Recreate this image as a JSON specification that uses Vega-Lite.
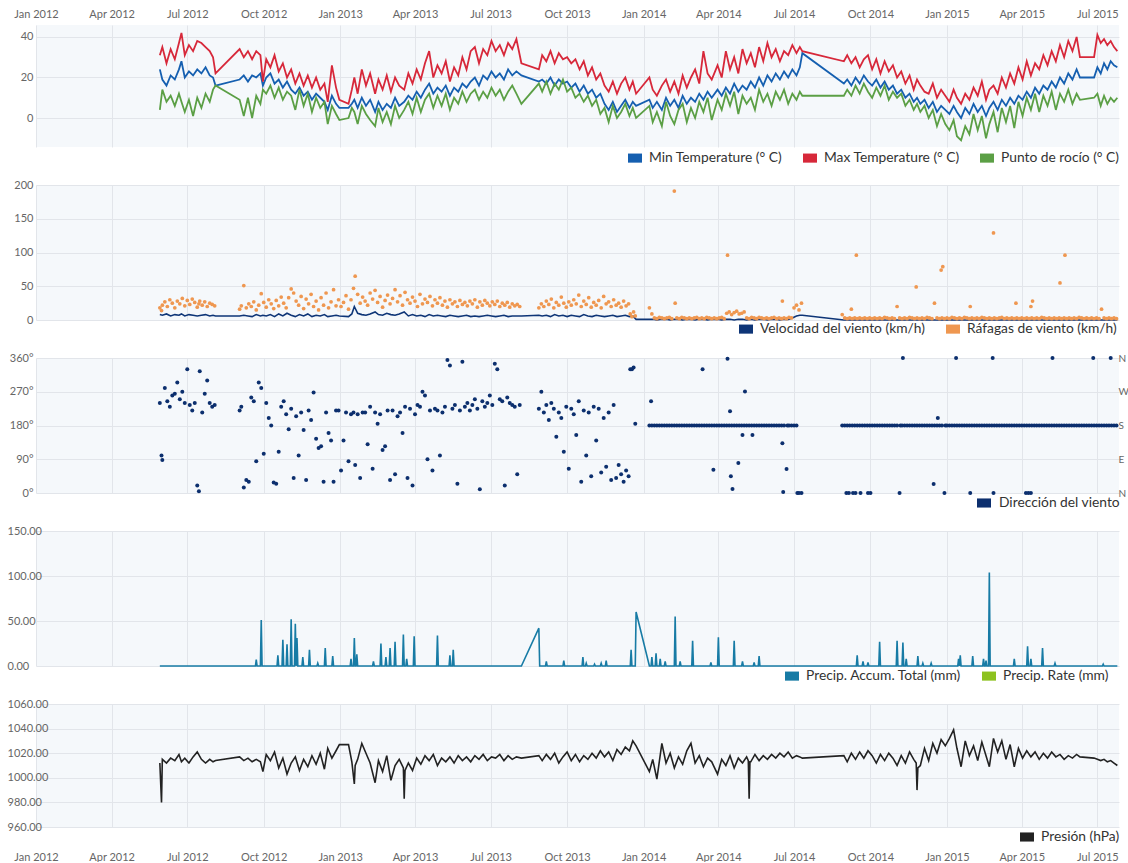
{
"$schema":"https://vega.github.io/schema/vega-lite/v6.json",
"background":"white",
"padding":{"left":7,"top":8,"right":0,"bottom":0},
"bounds":"flush",
"spacing":38,
"resolve":{"scale":{"color":"independent"},"legend":{"color":"independent"}},
"config":{
 "font":"Lato",
 "view":{"fill":"#f5f8fb","stroke":null},
 "axis":{"labelFont":"Lato","labelFontSize":11,"labelColor":"#666666","domain":false,"ticks":false,"tickSize":0,"gridColor":"#e2e5ea","gridWidth":1,"title":null,"labelFlush":false,"labelOverlap":false},
 "legend":{"labelFont":"Lato","labelFontSize":13.8,"labelColor":"#333333","orient":"none","direction":"horizontal","columnPadding":20,"labelOffset":7,"symbolSize":196,"symbolType":"M-1,-0.65H1V0.65H-1Z","title":null,"padding":0,"labelLimit":400}
},
"datasets":{
"m":[
{"d":"2012-05-29","a":24,"b":31,"c":4,"w":8,"p":1012},
{"d":"2012-05-31","p":980},
{"d":"2012-06-01","a":19,"b":35,"c":14,"w":7,"p":1015},
{"d":"2012-06-06","a":16,"b":27,"c":8,"w":9,"p":1012},
{"d":"2012-06-11","a":21,"b":34,"c":11,"w":6,"p":1016},
{"d":"2012-06-16","a":19,"b":29,"c":6,"w":8,"p":1014},
{"d":"2012-06-21","a":24,"b":37,"c":12,"w":7,"p":1019},
{"d":"2012-06-24","a":28,"b":42,"c":8,"w":9,"p":1013},
{"d":"2012-06-28","a":20,"b":31,"c":3,"w":6,"p":1016},
{"d":"2012-07-03","a":23,"b":36,"c":9,"w":8,"p":1012},
{"d":"2012-07-08","a":21,"b":33,"c":1,"w":7,"p":1017},
{"d":"2012-07-13","a":24,"b":38,"c":10,"w":6,"p":1021},
{"d":"2012-07-18","a":22,"b":37,"c":5,"w":7,"p":1015},
{"d":"2012-07-23","a":25,"b":35,"c":12,"w":8,"p":1012},
{"d":"2012-07-28","a":21,"b":33,"c":8,"w":6,"p":1015},
{"d":"2012-08-01","a":20,"b":30,"c":14,"w":7,"p":1013},
{"d":"2012-08-04","a":16,"b":22,"c":16,"w":6,"p":1014},
{"d":"2012-09-02","a":19,"b":34,"c":9,"w":6,"p":1017},
{"d":"2012-09-07","a":21,"b":30,"c":1,"w":7,"p":1014},
{"d":"2012-09-12","a":18,"b":33,"c":10,"w":6,"p":1016},
{"d":"2012-09-17","a":21,"b":29,"c":0,"w":5,"p":1013},
{"d":"2012-09-22","a":20,"b":33,"c":11,"w":8,"p":1015},
{"d":"2012-09-27","a":22,"b":31,"c":7,"w":6,"p":1013},
{"d":"2012-09-30","a":16,"b":18,"c":14,"w":7,"p":1005},
{"d":"2012-10-04","a":20,"b":29,"c":12,"w":6,"p":1019},
{"d":"2012-10-09","a":22,"b":25,"c":16,"w":8,"p":1014},
{"d":"2012-10-14","a":17,"b":31,"c":10,"w":5,"p":1021},
{"d":"2012-10-19","a":19,"b":23,"c":15,"w":9,"p":1008},
{"d":"2012-10-24","a":15,"b":27,"c":9,"w":6,"p":1016},
{"d":"2012-10-29","a":18,"b":20,"c":13,"w":10,"p":1003},
{"d":"2012-11-03","a":14,"b":24,"c":11,"w":7,"p":1012},
{"d":"2012-11-08","a":12,"b":17,"c":4,"w":5,"p":1017},
{"d":"2012-11-13","a":15,"b":22,"c":14,"w":8,"p":1006},
{"d":"2012-11-18","a":11,"b":16,"c":6,"w":6,"p":1015},
{"d":"2012-11-23","a":13,"b":21,"c":12,"w":9,"p":1009},
{"d":"2012-11-28","a":9,"b":15,"c":3,"w":5,"p":1018},
{"d":"2012-12-03","a":12,"b":20,"c":10,"w":7,"p":1011},
{"d":"2012-12-08","a":10,"b":14,"c":5,"w":6,"p":1020},
{"d":"2012-12-13","a":8,"b":17,"c":8,"w":8,"p":1007},
{"d":"2012-12-17","a":4,"b":8,"c":-3,"w":5,"p":1024},
{"d":"2012-12-22","a":11,"b":26,"c":6,"w":6,"p":1016},
{"d":"2012-12-27","a":7,"b":15,"c":2,"w":7,"p":1022},
{"d":"2012-12-31","a":5,"b":9,"c":-1,"w":6,"p":1027},
{"d":"2013-01-11","a":5,"b":7,"c":0,"w":5,"p":1027},
{"d":"2013-01-15","a":7,"b":14,"c":5,"w":9,"p":1013},
{"d":"2013-01-18","a":9,"b":20,"c":3,"w":20,"p":995},
{"d":"2013-01-19","p":1010},
{"d":"2013-01-22","a":5,"b":12,"c":-3,"w":10,"p":1015},
{"d":"2013-01-27","a":10,"b":24,"c":6,"w":8,"p":1028},
{"d":"2013-02-01","a":6,"b":16,"c":2,"w":7,"p":1020},
{"d":"2013-02-06","a":9,"b":22,"c":-1,"w":9,"p":1012},
{"d":"2013-02-12","a":3,"b":12,"c":-4,"w":12,"p":996},
{"d":"2013-02-16","a":8,"b":19,"c":5,"w":8,"p":1014},
{"d":"2013-02-21","a":4,"b":14,"c":-2,"w":7,"p":1005},
{"d":"2013-02-26","a":7,"b":21,"c":3,"w":10,"p":1018},
{"d":"2013-03-03","a":5,"b":13,"c":-3,"w":8,"p":998},
{"d":"2013-03-08","a":10,"b":20,"c":6,"w":7,"p":1010},
{"d":"2013-03-13","a":6,"b":16,"c":0,"w":9,"p":1015},
{"d":"2013-03-18","p":1008},
{"d":"2013-03-19","a":8,"b":14,"c":4,"w":12,"p":983},
{"d":"2013-03-20","p":1006},
{"d":"2013-03-24","a":11,"b":22,"c":8,"w":6,"p":1012},
{"d":"2013-03-29","a":9,"b":17,"c":2,"w":8,"p":1006},
{"d":"2013-04-03","a":13,"b":24,"c":10,"w":6,"p":1016},
{"d":"2013-04-08","a":10,"b":19,"c":3,"w":7,"p":1011},
{"d":"2013-04-13","a":14,"b":27,"c":9,"w":5,"p":1018},
{"d":"2013-04-18","a":17,"b":33,"c":12,"w":8,"p":1014},
{"d":"2013-04-23","a":12,"b":20,"c":5,"w":6,"p":1019},
{"d":"2013-04-28","a":15,"b":26,"c":11,"w":7,"p":1010},
{"d":"2013-05-03","a":13,"b":22,"c":6,"w":6,"p":1016},
{"d":"2013-05-08","a":16,"b":28,"c":12,"w":5,"p":1013},
{"d":"2013-05-13","a":11,"b":18,"c":4,"w":7,"p":1017},
{"d":"2013-05-18","a":15,"b":25,"c":10,"w":6,"p":1012},
{"d":"2013-05-23","a":13,"b":21,"c":7,"w":5,"p":1018},
{"d":"2013-05-28","a":17,"b":30,"c":13,"w":6,"p":1014},
{"d":"2013-06-02","a":15,"b":24,"c":8,"w":7,"p":1017},
{"d":"2013-06-07","a":18,"b":33,"c":12,"w":5,"p":1013},
{"d":"2013-06-12","a":20,"b":35,"c":14,"w":6,"p":1018},
{"d":"2013-06-17","a":16,"b":27,"c":9,"w":5,"p":1015},
{"d":"2013-06-22","a":21,"b":34,"c":13,"w":6,"p":1019},
{"d":"2013-06-27","a":19,"b":31,"c":10,"w":7,"p":1014},
{"d":"2013-07-02","a":23,"b":38,"c":15,"w":6,"p":1017},
{"d":"2013-07-07","a":20,"b":33,"c":11,"w":5,"p":1016},
{"d":"2013-07-12","a":22,"b":36,"c":14,"w":6,"p":1019},
{"d":"2013-07-17","a":19,"b":31,"c":9,"w":7,"p":1014},
{"d":"2013-07-22","a":24,"b":37,"c":13,"w":5,"p":1018},
{"d":"2013-07-27","a":21,"b":34,"c":16,"w":6,"p":1015},
{"d":"2013-08-01","a":23,"b":39,"c":12,"w":6,"p":1017},
{"d":"2013-08-07","a":21,"b":27,"c":7,"w":6,"p":1016},
{"d":"2013-08-28","a":18,"b":24,"c":17,"w":7,"p":1018},
{"d":"2013-09-01","a":19,"b":31,"c":13,"w":6,"p":1014},
{"d":"2013-09-06","a":17,"b":28,"c":18,"w":7,"p":1019},
{"d":"2013-09-11","a":20,"b":33,"c":12,"w":5,"p":1015},
{"d":"2013-09-16","a":16,"b":27,"c":17,"w":8,"p":1020},
{"d":"2013-09-21","a":19,"b":32,"c":14,"w":6,"p":1012},
{"d":"2013-09-26","a":17,"b":29,"c":19,"w":7,"p":1017},
{"d":"2013-10-01","a":18,"b":30,"c":13,"w":5,"p":1021},
{"d":"2013-10-06","a":15,"b":27,"c":15,"w":7,"p":1014},
{"d":"2013-10-11","a":17,"b":29,"c":10,"w":6,"p":1019},
{"d":"2013-10-16","a":13,"b":24,"c":12,"w":5,"p":1013},
{"d":"2013-10-21","a":16,"b":28,"c":8,"w":8,"p":1018},
{"d":"2013-10-26","a":12,"b":21,"c":11,"w":6,"p":1015},
{"d":"2013-10-31","a":14,"b":25,"c":6,"w":5,"p":1020},
{"d":"2013-11-05","a":10,"b":19,"c":9,"w":7,"p":1016},
{"d":"2013-11-10","a":12,"b":22,"c":2,"w":6,"p":1022},
{"d":"2013-11-15","a":7,"b":16,"c":5,"w":5,"p":1017},
{"d":"2013-11-20","a":4,"b":13,"c":-2,"w":6,"p":1021},
{"d":"2013-11-25","a":8,"b":18,"c":6,"w":7,"p":1014},
{"d":"2013-11-30","a":3,"b":12,"c":0,"w":5,"p":1023},
{"d":"2013-12-05","a":6,"b":17,"c":3,"w":6,"p":1019},
{"d":"2013-12-10","a":9,"b":20,"c":7,"w":7,"p":1025},
{"d":"2013-12-15","a":5,"b":14,"c":1,"w":5,"p":1022},
{"d":"2013-12-19","a":8,"b":18,"c":5,"w":6,"p":1030},
{"d":"2013-12-23","a":6,"b":12,"c":0,"w":1,"p":1026},
{"d":"2014-01-08","a":9,"b":20,"c":6,"w":1,"p":1005},
{"d":"2014-01-12","a":5,"b":14,"c":-2,"w":1,"p":1015},
{"d":"2014-01-17","a":8,"b":11,"c":3,"w":0,"p":999},
{"d":"2014-01-23","a":4,"b":16,"c":-4,"w":1,"p":1028},
{"d":"2014-01-28","a":10,"b":19,"c":8,"w":1,"p":1012},
{"d":"2014-02-02","a":6,"b":13,"c":1,"w":0,"p":1020},
{"d":"2014-02-07","a":9,"b":18,"c":-3,"w":1,"p":1008},
{"d":"2014-02-12","a":5,"b":12,"c":4,"w":1,"p":1017},
{"d":"2014-02-17","a":11,"b":21,"c":7,"w":0,"p":1011},
{"d":"2014-02-22","a":7,"b":15,"c":-2,"w":1,"p":1022},
{"d":"2014-02-27","a":10,"b":20,"c":5,"w":1,"p":1028},
{"d":"2014-03-04","a":8,"b":24,"c":0,"w":0,"p":1012},
{"d":"2014-03-09","a":12,"b":17,"c":8,"w":1,"p":1018},
{"d":"2014-03-14","a":9,"b":33,"c":3,"w":1,"p":1009},
{"d":"2014-03-19","a":13,"b":22,"c":10,"w":0,"p":1016},
{"d":"2014-03-24","a":10,"b":19,"c":-1,"w":1,"p":1013},
{"d":"2014-03-31","a":14,"b":26,"c":9,"w":1,"p":1003},
{"d":"2014-04-05","a":11,"b":20,"c":4,"w":0,"p":1015},
{"d":"2014-04-10","a":15,"b":33,"c":12,"w":1,"p":1010},
{"d":"2014-04-15","a":12,"b":24,"c":6,"w":1,"p":1018},
{"d":"2014-04-20","a":17,"b":30,"c":13,"w":0,"p":1008},
{"d":"2014-04-25","a":13,"b":22,"c":2,"w":1,"p":1016},
{"d":"2014-04-30","a":16,"b":34,"c":11,"w":1,"p":1012},
{"d":"2014-05-05","a":14,"b":27,"c":7,"w":0,"p":1017},
{"d":"2014-05-07","p":1014},
{"d":"2014-05-08","p":983},
{"d":"2014-05-09","p":1013},
{"d":"2014-05-10","a":18,"b":32,"c":10,"w":1,"p":1013},
{"d":"2014-05-15","a":15,"b":25,"c":4,"w":0,"p":1019},
{"d":"2014-05-20","a":20,"b":35,"c":14,"w":1,"p":1014},
{"d":"2014-05-25","a":16,"b":28,"c":8,"w":1,"p":1018},
{"d":"2014-05-30","a":21,"b":37,"c":12,"w":0,"p":1015},
{"d":"2014-06-04","a":18,"b":30,"c":6,"w":1,"p":1019},
{"d":"2014-06-09","a":22,"b":34,"c":13,"w":1,"p":1016},
{"d":"2014-06-14","a":19,"b":28,"c":9,"w":0,"p":1020},
{"d":"2014-06-19","a":23,"b":33,"c":14,"w":1,"p":1017},
{"d":"2014-06-24","a":20,"b":31,"c":7,"w":1,"p":1021},
{"d":"2014-06-29","a":24,"b":36,"c":12,"w":3,"p":1016},
{"d":"2014-07-04","a":21,"b":32,"c":9,"w":6,"p":1018},
{"d":"2014-07-08","a":25,"b":35,"c":13,"w":7,"p":1017},
{"d":"2014-07-11","a":32,"b":33,"c":11,"w":7,"p":1016},
{"d":"2014-08-30","a":17,"b":28,"c":11,"w":0,"p":1018},
{"d":"2014-09-03","a":19,"b":31,"c":14,"w":0,"p":1013},
{"d":"2014-09-08","a":16,"b":27,"c":11,"w":0,"p":1020},
{"d":"2014-09-13","a":20,"b":30,"c":16,"w":0,"p":1015},
{"d":"2014-09-18","a":17,"b":25,"c":12,"w":0,"p":1021},
{"d":"2014-09-23","a":21,"b":29,"c":17,"w":0,"p":1016},
{"d":"2014-09-28","a":18,"b":31,"c":13,"w":0,"p":1022},
{"d":"2014-10-03","a":16,"b":24,"c":10,"w":0,"p":1018},
{"d":"2014-10-08","a":19,"b":29,"c":15,"w":0,"p":1012},
{"d":"2014-10-13","a":15,"b":22,"c":11,"w":0,"p":1019},
{"d":"2014-10-18","a":18,"b":28,"c":16,"w":0,"p":1014},
{"d":"2014-10-23","a":14,"b":23,"c":9,"w":0,"p":1020},
{"d":"2014-10-28","a":16,"b":26,"c":13,"w":0,"p":1016},
{"d":"2014-11-02","a":12,"b":20,"c":10,"w":0,"p":1010},
{"d":"2014-11-07","a":14,"b":23,"c":12,"w":0,"p":1018},
{"d":"2014-11-12","a":10,"b":17,"c":6,"w":0,"p":1012},
{"d":"2014-11-17","a":12,"b":21,"c":9,"w":0,"p":1021},
{"d":"2014-11-22","a":8,"b":14,"c":4,"w":0,"p":1015},
{"d":"2014-11-25","p":1012},
{"d":"2014-11-26","a":10,"b":19,"c":7,"w":0,"p":990},
{"d":"2014-11-27","p":1008},
{"d":"2014-11-30","a":7,"b":16,"c":3,"w":0,"p":1010},
{"d":"2014-12-05","a":9,"b":13,"c":6,"w":0,"p":1024},
{"d":"2014-12-10","a":5,"b":12,"c":0,"w":0,"p":1014},
{"d":"2014-12-15","a":8,"b":17,"c":4,"w":0,"p":1028},
{"d":"2014-12-20","a":3,"b":10,"c":-4,"w":0,"p":1020},
{"d":"2014-12-25","a":6,"b":14,"c":2,"w":0,"p":1031},
{"d":"2014-12-30","a":4,"b":11,"c":-3,"w":0,"p":1026},
{"d":"2015-01-04","a":2,"b":8,"c":-6,"w":0,"p":1032},
{"d":"2015-01-09","a":6,"b":14,"c":-1,"w":0,"p":1039},
{"d":"2015-01-13","a":3,"b":10,"c":-9,"w":0,"p":1024},
{"d":"2015-01-18","a":0,"b":7,"c":-11,"w":0,"p":1009},
{"d":"2015-01-23","a":5,"b":12,"c":-4,"w":0,"p":1030},
{"d":"2015-01-28","a":2,"b":9,"c":-8,"w":0,"p":1018},
{"d":"2015-02-02","a":7,"b":15,"c":2,"w":0,"p":1026},
{"d":"2015-02-07","a":3,"b":11,"c":-6,"w":0,"p":1014},
{"d":"2015-02-12","a":6,"b":18,"c":1,"w":0,"p":1029},
{"d":"2015-02-17","a":1,"b":9,"c":-10,"w":0,"p":1018},
{"d":"2015-02-21","a":5,"b":14,"c":-3,"w":0,"p":1009},
{"d":"2015-02-26","a":8,"b":16,"c":3,"w":0,"p":1032},
{"d":"2015-03-03","a":4,"b":12,"c":-7,"w":0,"p":1021},
{"d":"2015-03-08","a":9,"b":20,"c":5,"w":0,"p":1030},
{"d":"2015-03-13","a":6,"b":15,"c":-2,"w":0,"p":1015},
{"d":"2015-03-18","a":10,"b":22,"c":6,"w":0,"p":1027},
{"d":"2015-03-23","a":7,"b":17,"c":-5,"w":0,"p":1009},
{"d":"2015-03-28","a":11,"b":25,"c":8,"w":0,"p":1024},
{"d":"2015-04-02","a":9,"b":19,"c":1,"w":0,"p":1016},
{"d":"2015-04-07","a":13,"b":28,"c":10,"w":0,"p":1022},
{"d":"2015-04-12","a":10,"b":21,"c":4,"w":0,"p":1017},
{"d":"2015-04-17","a":15,"b":27,"c":12,"w":0,"p":1021},
{"d":"2015-04-22","a":12,"b":24,"c":3,"w":0,"p":1015},
{"d":"2015-04-27","a":16,"b":31,"c":11,"w":0,"p":1020},
{"d":"2015-05-02","a":14,"b":26,"c":6,"w":0,"p":1016},
{"d":"2015-05-07","a":18,"b":33,"c":13,"w":0,"p":1021},
{"d":"2015-05-12","a":15,"b":28,"c":4,"w":0,"p":1017},
{"d":"2015-05-17","a":20,"b":36,"c":12,"w":0,"p":1019},
{"d":"2015-05-22","a":17,"b":30,"c":8,"w":0,"p":1015},
{"d":"2015-05-27","a":22,"b":38,"c":14,"w":0,"p":1018},
{"d":"2015-06-01","a":19,"b":33,"c":7,"w":0,"p":1016},
{"d":"2015-06-06","a":24,"b":40,"c":12,"w":0,"p":1019},
{"d":"2015-06-10","a":20,"b":30,"c":9,"w":0,"p":1017},
{"d":"2015-06-27","a":20,"b":30,"c":10,"w":0,"p":1016},
{"d":"2015-07-01","a":25,"b":41,"c":12,"w":0,"p":1015},
{"d":"2015-07-05","a":22,"b":37,"c":6,"w":0,"p":1014},
{"d":"2015-07-09","a":27,"b":39,"c":11,"w":0,"p":1015},
{"d":"2015-07-13","a":24,"b":36,"c":7,"w":0,"p":1013},
{"d":"2015-07-17","a":28,"b":38,"c":10,"w":0,"p":1014},
{"d":"2015-07-21","a":26,"b":35,"c":8,"w":0,"p":1012},
{"d":"2015-07-25","a":25,"b":33,"c":10,"w":0,"p":1010}
],
"pts":[
{"d":"2012-05-29","g":18,"r":240},{"d":"2012-05-31","g":14,"r":100},{"d":"2012-06-01","g":22,"r":88},{"d":"2012-06-04","g":27,"r":280},{"d":"2012-06-07","g":20,"r":245},{"d":"2012-06-10","g":30,"r":230},{"d":"2012-06-13","g":25,"r":260},{"d":"2012-06-16","g":18,"r":265},{"d":"2012-06-19","g":28,"r":295},{"d":"2012-06-22","g":24,"r":250},{"d":"2012-06-25","g":32,"r":270},{"d":"2012-06-28","g":21,"r":240},
{"d":"2012-07-01","g":29,"r":330},{"d":"2012-07-04","g":23,"r":235},{"d":"2012-07-07","g":31,"r":220},{"d":"2012-07-10","g":26,"r":240},{"d":"2012-07-13","g":19,"r":20},{"d":"2012-07-15","g":24,"r":5},{"d":"2012-07-16","g":28,"r":325},{"d":"2012-07-19","g":22,"r":215},{"d":"2012-07-22","g":27,"r":265},{"d":"2012-07-25","g":20,"r":300},{"d":"2012-07-28","g":25,"r":240},{"d":"2012-07-31","g":23,"r":230},{"d":"2012-08-03","g":21,"r":235},
{"d":"2012-09-02","g":16,"r":220},{"d":"2012-09-04","g":21,"r":230},{"d":"2012-09-07","g":51,"r":15},{"d":"2012-09-10","g":18,"r":35},{"d":"2012-09-13","g":24,"r":30},{"d":"2012-09-16","g":20,"r":255},{"d":"2012-09-19","g":27,"r":245},{"d":"2012-09-22","g":15,"r":85},{"d":"2012-09-25","g":22,"r":295},{"d":"2012-09-28","g":39,"r":280},
{"d":"2012-10-01","g":26,"r":105},{"d":"2012-10-04","g":19,"r":240},{"d":"2012-10-07","g":30,"r":200},{"d":"2012-10-10","g":24,"r":180},{"d":"2012-10-13","g":17,"r":28},{"d":"2012-10-16","g":29,"r":25},{"d":"2012-10-19","g":21,"r":110},{"d":"2012-10-22","g":34,"r":230},{"d":"2012-10-25","g":25,"r":245},{"d":"2012-10-28","g":18,"r":210},{"d":"2012-10-31","g":33,"r":170},
{"d":"2012-11-03","g":46,"r":225},{"d":"2012-11-06","g":40,"r":40},{"d":"2012-11-09","g":28,"r":205},{"d":"2012-11-12","g":22,"r":100},{"d":"2012-11-15","g":35,"r":215},{"d":"2012-11-18","g":17,"r":168},{"d":"2012-11-21","g":31,"r":35},{"d":"2012-11-24","g":24,"r":220},{"d":"2012-11-27","g":38,"r":195},{"d":"2012-11-30","g":20,"r":268},
{"d":"2012-12-03","g":28,"r":145},{"d":"2012-12-06","g":15,"r":120},{"d":"2012-12-09","g":33,"r":125},{"d":"2012-12-12","g":22,"r":30},{"d":"2012-12-15","g":40,"r":215},{"d":"2012-12-18","g":18,"r":160},{"d":"2012-12-21","g":27,"r":140},{"d":"2012-12-24","g":45,"r":30},{"d":"2012-12-27","g":21,"r":220},{"d":"2012-12-30","g":30,"r":220},
{"d":"2013-01-02","g":20,"r":60},{"d":"2013-01-05","g":26,"r":140},{"d":"2013-01-08","g":36,"r":215},{"d":"2013-01-11","g":16,"r":85},{"d":"2013-01-14","g":30,"r":210},{"d":"2013-01-17","g":47,"r":215},{"d":"2013-01-19","g":65,"r":75},{"d":"2013-01-22","g":38,"r":210},{"d":"2013-01-25","g":25,"r":40},{"d":"2013-01-28","g":34,"r":215},{"d":"2013-01-31","g":28,"r":215},
{"d":"2013-02-03","g":22,"r":130},{"d":"2013-02-06","g":40,"r":230},{"d":"2013-02-09","g":31,"r":65},{"d":"2013-02-12","g":44,"r":215},{"d":"2013-02-15","g":26,"r":185},{"d":"2013-02-18","g":35,"r":210},{"d":"2013-02-21","g":19,"r":115},{"d":"2013-02-24","g":29,"r":125},{"d":"2013-02-27","g":37,"r":220},
{"d":"2013-03-02","g":24,"r":35},{"d":"2013-03-05","g":32,"r":220},{"d":"2013-03-08","g":45,"r":50},{"d":"2013-03-11","g":27,"r":205},{"d":"2013-03-14","g":36,"r":215},{"d":"2013-03-17","g":22,"r":160},{"d":"2013-03-20","g":41,"r":230},{"d":"2013-03-23","g":30,"r":40},{"d":"2013-03-26","g":25,"r":225},{"d":"2013-03-29","g":34,"r":20},
{"d":"2013-04-01","g":28,"r":210},{"d":"2013-04-04","g":20,"r":235},{"d":"2013-04-07","g":38,"r":230},{"d":"2013-04-10","g":24,"r":270},{"d":"2013-04-13","g":31,"r":260},{"d":"2013-04-16","g":26,"r":90},{"d":"2013-04-19","g":35,"r":220},{"d":"2013-04-22","g":21,"r":60},{"d":"2013-04-25","g":30,"r":225},{"d":"2013-04-28","g":25,"r":220},
{"d":"2013-05-01","g":33,"r":100},{"d":"2013-05-04","g":22,"r":215},{"d":"2013-05-07","g":28,"r":230},{"d":"2013-05-10","g":19,"r":355},{"d":"2013-05-13","g":30,"r":340},{"d":"2013-05-16","g":24,"r":225},{"d":"2013-05-19","g":27,"r":235},{"d":"2013-05-22","g":20,"r":25},{"d":"2013-05-25","g":29,"r":220},{"d":"2013-05-28","g":23,"r":350},{"d":"2013-05-31","g":26,"r":230},
{"d":"2013-06-03","g":21,"r":240},{"d":"2013-06-06","g":28,"r":220},{"d":"2013-06-09","g":24,"r":235},{"d":"2013-06-12","g":30,"r":250},{"d":"2013-06-15","g":19,"r":225},{"d":"2013-06-18","g":27,"r":10},{"d":"2013-06-21","g":22,"r":245},{"d":"2013-06-24","g":29,"r":230},{"d":"2013-06-27","g":25,"r":240},{"d":"2013-06-30","g":21,"r":260},
{"d":"2013-07-03","g":27,"r":235},{"d":"2013-07-06","g":23,"r":345},{"d":"2013-07-09","g":28,"r":330},{"d":"2013-07-12","g":20,"r":250},{"d":"2013-07-15","g":25,"r":245},{"d":"2013-07-18","g":22,"r":20},{"d":"2013-07-21","g":26,"r":255},{"d":"2013-07-24","g":19,"r":240},{"d":"2013-07-27","g":24,"r":235},{"d":"2013-07-30","g":21,"r":230},
{"d":"2013-08-02","g":23,"r":50},{"d":"2013-08-05","g":20,"r":235},{"d":"2013-08-28","g":18,"r":225},{"d":"2013-08-31","g":24,"r":270},
{"d":"2013-09-03","g":20,"r":215},{"d":"2013-09-06","g":28,"r":235},{"d":"2013-09-09","g":23,"r":195},{"d":"2013-09-12","g":31,"r":240},{"d":"2013-09-15","g":18,"r":225},{"d":"2013-09-18","g":26,"r":150},{"d":"2013-09-21","g":22,"r":215},{"d":"2013-09-24","g":34,"r":200},{"d":"2013-09-27","g":25,"r":110},{"d":"2013-09-30","g":19,"r":230},
{"d":"2013-10-03","g":27,"r":65},{"d":"2013-10-06","g":22,"r":225},{"d":"2013-10-09","g":30,"r":210},{"d":"2013-10-12","g":24,"r":155},{"d":"2013-10-15","g":37,"r":245},{"d":"2013-10-18","g":20,"r":30},{"d":"2013-10-21","g":28,"r":220},{"d":"2013-10-24","g":23,"r":100},{"d":"2013-10-27","g":33,"r":215},{"d":"2013-10-30","g":19,"r":45},
{"d":"2013-11-02","g":26,"r":230},{"d":"2013-11-05","g":22,"r":140},{"d":"2013-11-08","g":29,"r":225},{"d":"2013-11-11","g":18,"r":55},{"d":"2013-11-14","g":35,"r":200},{"d":"2013-11-17","g":24,"r":70},{"d":"2013-11-20","g":27,"r":215},{"d":"2013-11-23","g":20,"r":35},{"d":"2013-11-26","g":30,"r":235},{"d":"2013-11-29","g":22,"r":40},
{"d":"2013-12-02","g":25,"r":75},{"d":"2013-12-05","g":19,"r":50},{"d":"2013-12-08","g":28,"r":30},{"d":"2013-12-11","g":21,"r":60},{"d":"2013-12-14","g":24,"r":45},{"d":"2013-12-16","g":9,"r":330},{"d":"2013-12-18","g":5,"r":330},{"d":"2013-12-20","g":12,"r":335},{"d":"2013-12-22","g":6,"r":185},
{"d":"2014-01-08","g":18,"r":180},{"d":"2014-01-10","r":245},{"d":"2014-01-11","g":9,"r":180},{"d":"2014-01-14","g":3,"r":180},{"d":"2014-01-17","g":2,"r":180},{"d":"2014-01-20","g":4,"r":180},{"d":"2014-01-23","g":3,"r":180},{"d":"2014-01-26","g":2,"r":180},{"d":"2014-01-29","g":3,"r":180},
{"d":"2014-02-01","g":4,"r":180},{"d":"2014-02-04","g":2,"r":180},{"d":"2014-02-07","g":191,"r":180},{"d":"2014-02-08","g":25},{"d":"2014-02-10","g":3,"r":180},{"d":"2014-02-13","g":2,"r":180},{"d":"2014-02-16","g":4,"r":180},{"d":"2014-02-19","g":3,"r":180},{"d":"2014-02-22","g":2,"r":180},{"d":"2014-02-25","g":3,"r":180},{"d":"2014-02-28","g":2,"r":180},
{"d":"2014-03-03","g":3,"r":180},{"d":"2014-03-06","g":4,"r":180},{"d":"2014-03-09","g":2,"r":180},{"d":"2014-03-12","g":3,"r":180},{"d":"2014-03-13","r":330},{"d":"2014-03-15","g":2,"r":180},{"d":"2014-03-18","g":4,"r":180},{"d":"2014-03-21","g":3,"r":180},{"d":"2014-03-24","g":2,"r":180},{"d":"2014-03-26","r":62},{"d":"2014-03-27","g":3,"r":180},{"d":"2014-03-30","g":2,"r":180},
{"d":"2014-04-02","g":3,"r":180},{"d":"2014-04-05","g":4,"r":180},{"d":"2014-04-08","g":2,"r":180},{"d":"2014-04-11","g":10,"r":180},{"d":"2014-04-12","g":96,"r":358},{"d":"2014-04-14","g":12,"r":180},{"d":"2014-04-15","r":218},{"d":"2014-04-16","r":45},{"d":"2014-04-17","g":8,"r":180},{"d":"2014-04-18","r":11},{"d":"2014-04-20","g":11,"r":180},{"d":"2014-04-23","g":13,"r":180},{"d":"2014-04-25","r":80},{"d":"2014-04-26","g":9,"r":180},{"d":"2014-04-29","g":10,"r":180},{"d":"2014-04-30","r":155},
{"d":"2014-05-02","g":12,"r":180},{"d":"2014-05-03","r":271},{"d":"2014-05-05","g":3,"r":180},{"d":"2014-05-08","g":2,"r":180},{"d":"2014-05-11","g":4,"r":180},{"d":"2014-05-12","r":155},{"d":"2014-05-14","g":3,"r":180},{"d":"2014-05-17","g":2,"r":180},{"d":"2014-05-20","g":4,"r":180},{"d":"2014-05-23","g":3,"r":180},{"d":"2014-05-26","g":2,"r":180},{"d":"2014-05-29","g":3,"r":180},
{"d":"2014-06-01","g":2,"r":180},{"d":"2014-06-04","g":3,"r":180},{"d":"2014-06-07","g":4,"r":180},{"d":"2014-06-10","g":2,"r":180},{"d":"2014-06-13","g":3,"r":180},{"d":"2014-06-16","g":2,"r":180},{"d":"2014-06-17","g":28,"r":133},{"d":"2014-06-18","r":3},{"d":"2014-06-19","g":3,"r":180},{"d":"2014-06-22","g":2,"r":64},{"d":"2014-06-23","r":180},{"d":"2014-06-25","g":4,"r":180},{"d":"2014-06-28","g":3,"r":180},
{"d":"2014-07-01","g":18,"r":180},{"d":"2014-07-04","g":22,"r":180},{"d":"2014-07-05","r":0},{"d":"2014-07-07","g":15,"r":0},{"d":"2014-07-10","g":25,"r":0},
{"d":"2014-08-28","g":8,"r":180},{"d":"2014-08-31","g":3,"r":180},{"d":"2014-09-02","r":0},{"d":"2014-09-03","g":2,"r":180},{"d":"2014-09-05","r":0},{"d":"2014-09-06","g":3,"r":180},{"d":"2014-09-08","g":16},{"d":"2014-09-09","g":2,"r":180},{"d":"2014-09-10","r":0},{"d":"2014-09-12","g":3,"r":180},{"d":"2014-09-13","r":0},{"d":"2014-09-14","g":96},{"d":"2014-09-15","g":2,"r":180},{"d":"2014-09-18","g":3,"r":180},{"d":"2014-09-19","r":0},{"d":"2014-09-21","g":2,"r":180},{"d":"2014-09-24","g":3,"r":180},{"d":"2014-09-27","g":2,"r":180},{"d":"2014-09-28","r":0},{"d":"2014-09-30","g":3,"r":180},{"d":"2014-10-01","r":0},
{"d":"2014-10-03","g":2,"r":180},{"d":"2014-10-06","g":3,"r":180},{"d":"2014-10-09","g":2,"r":180},{"d":"2014-10-12","g":3,"r":180},{"d":"2014-10-15","g":2,"r":180},{"d":"2014-10-18","g":4,"r":180},{"d":"2014-10-21","g":3,"r":180},{"d":"2014-10-24","g":2,"r":180},{"d":"2014-10-27","g":3,"r":180},{"d":"2014-10-30","g":2,"r":180},
{"d":"2014-11-02","g":20,"r":180},{"d":"2014-11-05","g":3,"r":0},{"d":"2014-11-06","r":180},{"d":"2014-11-08","g":2,"r":180},{"d":"2014-11-09","r":360},{"d":"2014-11-11","g":3,"r":180},{"d":"2014-11-14","g":2,"r":180},{"d":"2014-11-17","g":4,"r":180},{"d":"2014-11-20","g":3,"r":180},{"d":"2014-11-23","g":2,"r":180},{"d":"2014-11-25","g":49},{"d":"2014-11-26","g":3,"r":180},{"d":"2014-11-29","g":2,"r":180},
{"d":"2014-12-02","g":3,"r":180},{"d":"2014-12-05","g":2,"r":180},{"d":"2014-12-08","g":4,"r":180},{"d":"2014-12-11","g":3,"r":180},{"d":"2014-12-14","g":2,"r":180},{"d":"2014-12-16","r":24},{"d":"2014-12-17","g":25,"r":180},{"d":"2014-12-20","g":3,"r":180},{"d":"2014-12-21","r":200},{"d":"2014-12-23","g":2,"r":180},{"d":"2014-12-25","g":74},{"d":"2014-12-26","g":3,"r":180},{"d":"2014-12-27","g":79},{"d":"2014-12-29","g":2,"r":0},{"d":"2014-12-30","r":180},
{"d":"2015-01-01","g":3,"r":180},{"d":"2015-01-04","g":2,"r":180},{"d":"2015-01-07","g":4,"r":180},{"d":"2015-01-10","g":3,"r":180},{"d":"2015-01-12","r":360},{"d":"2015-01-13","g":2,"r":180},{"d":"2015-01-16","g":3,"r":180},{"d":"2015-01-19","g":2,"r":180},{"d":"2015-01-22","g":4,"r":180},{"d":"2015-01-25","g":3,"r":180},{"d":"2015-01-28","g":2,"r":180},{"d":"2015-01-29","g":20,"r":0},{"d":"2015-01-31","g":3,"r":180},
{"d":"2015-02-03","g":2,"r":180},{"d":"2015-02-06","g":3,"r":180},{"d":"2015-02-09","g":2,"r":180},{"d":"2015-02-12","g":4,"r":180},{"d":"2015-02-15","g":3,"r":180},{"d":"2015-02-18","g":2,"r":180},{"d":"2015-02-21","g":3,"r":180},{"d":"2015-02-24","g":2,"r":180},{"d":"2015-02-25","r":360},{"d":"2015-02-26","g":129,"r":0},{"d":"2015-02-27","g":3,"r":180},
{"d":"2015-03-02","g":2,"r":180},{"d":"2015-03-05","g":3,"r":180},{"d":"2015-03-08","g":4,"r":180},{"d":"2015-03-11","g":2,"r":180},{"d":"2015-03-14","g":3,"r":180},{"d":"2015-03-17","g":2,"r":180},{"d":"2015-03-20","g":3,"r":180},{"d":"2015-03-23","g":2,"r":180},{"d":"2015-03-25","g":25},{"d":"2015-03-26","g":3,"r":180},{"d":"2015-03-29","g":2,"r":180},
{"d":"2015-04-01","g":3,"r":180},{"d":"2015-04-04","g":2,"r":180},{"d":"2015-04-06","r":0},{"d":"2015-04-07","g":3,"r":180},{"d":"2015-04-09","r":0},{"d":"2015-04-10","g":2,"r":180},{"d":"2015-04-12","g":20,"r":0},{"d":"2015-04-13","g":3,"r":180},{"d":"2015-04-14","g":28},{"d":"2015-04-16","g":2,"r":180},{"d":"2015-04-19","g":3,"r":180},{"d":"2015-04-22","g":2,"r":180},{"d":"2015-04-25","g":4,"r":180},{"d":"2015-04-28","g":3,"r":180},
{"d":"2015-05-01","g":2,"r":180},{"d":"2015-05-04","g":3,"r":180},{"d":"2015-05-07","g":2,"r":180},{"d":"2015-05-08","r":360},{"d":"2015-05-10","g":3,"r":180},{"d":"2015-05-13","g":2,"r":180},{"d":"2015-05-16","g":3,"r":180},{"d":"2015-05-17","g":55},{"d":"2015-05-19","g":2,"r":180},{"d":"2015-05-22","g":3,"r":180},{"d":"2015-05-23","g":96},{"d":"2015-05-25","g":2,"r":180},{"d":"2015-05-28","g":3,"r":180},{"d":"2015-05-31","g":2,"r":180},
{"d":"2015-06-03","g":3,"r":180},{"d":"2015-06-06","g":2,"r":180},{"d":"2015-06-09","g":4,"r":180},{"d":"2015-06-12","g":3,"r":180},{"d":"2015-06-15","g":2,"r":180},{"d":"2015-06-18","g":3,"r":180},{"d":"2015-06-21","g":2,"r":180},{"d":"2015-06-24","g":3,"r":180},{"d":"2015-06-26","r":360},{"d":"2015-06-27","g":2,"r":180},{"d":"2015-06-30","g":3,"r":180},
{"d":"2015-07-03","g":2,"r":180},{"d":"2015-07-06","g":16,"r":180},{"d":"2015-07-09","g":3,"r":180},{"d":"2015-07-12","g":2,"r":180},{"d":"2015-07-15","g":3,"r":180},{"d":"2015-07-17","r":360},{"d":"2015-07-18","g":2,"r":180},{"d":"2015-07-21","g":3,"r":180},{"d":"2015-07-24","g":2,"r":180}
],
"pr":[
{"d":"2012-05-29","v":0},
{"d":"2012-09-21","v":0},{"d":"2012-09-22","v":7},{"d":"2012-09-23","v":0},
{"d":"2012-09-27","v":0},{"d":"2012-09-28","v":51},{"d":"2012-09-29","v":0},
{"d":"2012-10-17","v":0},{"d":"2012-10-18","v":12},{"d":"2012-10-19","v":0},
{"d":"2012-10-23","v":0},{"d":"2012-10-24","v":29},{"d":"2012-10-25","v":0},
{"d":"2012-10-28","v":0},{"d":"2012-10-29","v":24},{"d":"2012-10-30","v":0},
{"d":"2012-11-02","v":0},{"d":"2012-11-03","v":52},{"d":"2012-11-04","v":0},
{"d":"2012-11-07","v":0},{"d":"2012-11-08","v":47},{"d":"2012-11-09","v":0},{"d":"2012-11-10","v":31},{"d":"2012-11-11","v":0},
{"d":"2012-11-16","v":0},{"d":"2012-11-17","v":10},{"d":"2012-11-18","v":0},
{"d":"2012-11-24","v":0},{"d":"2012-11-25","v":18},{"d":"2012-11-26","v":0},
{"d":"2012-12-04","v":0},{"d":"2012-12-05","v":3},{"d":"2012-12-06","v":0},
{"d":"2012-12-13","v":0},{"d":"2012-12-14","v":20},{"d":"2012-12-15","v":0},
{"d":"2012-12-22","v":0},{"d":"2012-12-23","v":11},{"d":"2012-12-24","v":0},
{"d":"2013-01-13","v":0},{"d":"2013-01-14","v":8},{"d":"2013-01-15","v":0},
{"d":"2013-01-17","v":0},{"d":"2013-01-18","v":31},{"d":"2013-01-19","v":0},
{"d":"2013-01-20","v":0},{"d":"2013-01-21","v":13},{"d":"2013-01-22","v":0},
{"d":"2013-02-09","v":0},{"d":"2013-02-10","v":5},{"d":"2013-02-11","v":0},
{"d":"2013-02-18","v":0},{"d":"2013-02-19","v":25},{"d":"2013-02-20","v":0},
{"d":"2013-02-24","v":0},{"d":"2013-02-25","v":10},{"d":"2013-02-26","v":0},
{"d":"2013-03-01","v":0},{"d":"2013-03-02","v":20},{"d":"2013-03-03","v":0},
{"d":"2013-03-07","v":0},{"d":"2013-03-08","v":27},{"d":"2013-03-09","v":0},
{"d":"2013-03-17","v":0},{"d":"2013-03-18","v":35},{"d":"2013-03-19","v":0},
{"d":"2013-03-21","v":0},{"d":"2013-03-22","v":8},{"d":"2013-03-23","v":0},
{"d":"2013-03-30","v":0},{"d":"2013-03-31","v":33},{"d":"2013-04-01","v":0},
{"d":"2013-04-27","v":0},{"d":"2013-04-28","v":34},{"d":"2013-04-29","v":0},
{"d":"2013-05-12","v":0},{"d":"2013-05-13","v":12},{"d":"2013-05-14","v":0},
{"d":"2013-05-16","v":0},{"d":"2013-05-17","v":18},{"d":"2013-05-18","v":0},
{"d":"2013-08-07","v":0},{"d":"2013-08-28","v":42},{"d":"2013-08-29","v":0},
{"d":"2013-09-05","v":0},{"d":"2013-09-06","v":5},{"d":"2013-09-07","v":0},
{"d":"2013-09-26","v":0},{"d":"2013-09-27","v":6},{"d":"2013-09-28","v":0},
{"d":"2013-10-19","v":0},{"d":"2013-10-20","v":10},{"d":"2013-10-21","v":0},
{"d":"2013-10-23","v":0},{"d":"2013-10-24","v":3},{"d":"2013-10-25","v":0},
{"d":"2013-11-02","v":0},{"d":"2013-11-03","v":2},{"d":"2013-11-04","v":0},
{"d":"2013-11-10","v":0},{"d":"2013-11-11","v":3},{"d":"2013-11-12","v":0},
{"d":"2013-11-16","v":0},{"d":"2013-11-17","v":6},{"d":"2013-11-18","v":0},
{"d":"2013-12-16","v":0},{"d":"2013-12-17","v":18},{"d":"2013-12-18","v":0},
{"d":"2013-12-22","v":0},{"d":"2013-12-23","v":60},{"d":"2014-01-08","v":0},
{"d":"2014-01-10","v":0},{"d":"2014-01-11","v":10},{"d":"2014-01-12","v":0},
{"d":"2014-01-15","v":0},{"d":"2014-01-16","v":14},{"d":"2014-01-17","v":0},
{"d":"2014-01-20","v":0},{"d":"2014-01-21","v":8},{"d":"2014-01-22","v":0},
{"d":"2014-01-26","v":0},{"d":"2014-01-27","v":5},{"d":"2014-01-28","v":0},
{"d":"2014-02-07","v":0},{"d":"2014-02-08","v":55},{"d":"2014-02-09","v":0},
{"d":"2014-02-13","v":0},{"d":"2014-02-14","v":5},{"d":"2014-02-15","v":0},
{"d":"2014-02-28","v":0},{"d":"2014-03-01","v":28},{"d":"2014-03-02","v":0},
{"d":"2014-03-22","v":0},{"d":"2014-03-23","v":4},{"d":"2014-03-24","v":0},
{"d":"2014-03-31","v":0},{"d":"2014-04-01","v":32},{"d":"2014-04-02","v":0},
{"d":"2014-04-19","v":0},{"d":"2014-04-20","v":28},{"d":"2014-04-21","v":0},
{"d":"2014-04-29","v":0},{"d":"2014-04-30","v":5},{"d":"2014-05-01","v":0},
{"d":"2014-05-13","v":0},{"d":"2014-05-14","v":4},{"d":"2014-05-15","v":0},
{"d":"2014-05-19","v":0},{"d":"2014-05-20","v":11},{"d":"2014-05-21","v":0},
{"d":"2014-09-14","v":0},{"d":"2014-09-15","v":12},{"d":"2014-09-16","v":0},
{"d":"2014-09-21","v":0},{"d":"2014-09-22","v":5},{"d":"2014-09-23","v":0},
{"d":"2014-09-27","v":0},{"d":"2014-09-28","v":4},{"d":"2014-09-29","v":0},
{"d":"2014-10-11","v":0},{"d":"2014-10-12","v":27},{"d":"2014-10-13","v":0},
{"d":"2014-11-01","v":0},{"d":"2014-11-02","v":28},{"d":"2014-11-03","v":0},
{"d":"2014-11-08","v":0},{"d":"2014-11-09","v":26},{"d":"2014-11-10","v":0},
{"d":"2014-11-12","v":0},{"d":"2014-11-13","v":8},{"d":"2014-11-14","v":0},
{"d":"2014-11-26","v":0},{"d":"2014-11-27","v":11},{"d":"2014-11-28","v":0},
{"d":"2014-12-02","v":0},{"d":"2014-12-03","v":3},{"d":"2014-12-04","v":0},
{"d":"2014-12-12","v":0},{"d":"2014-12-13","v":3},{"d":"2014-12-14","v":0},
{"d":"2015-01-14","v":0},{"d":"2015-01-15","v":8},{"d":"2015-01-16","v":0},{"d":"2015-01-17","v":12},{"d":"2015-01-18","v":0},
{"d":"2015-01-31","v":0},{"d":"2015-02-01","v":11},{"d":"2015-02-02","v":0},
{"d":"2015-02-13","v":0},{"d":"2015-02-14","v":8},{"d":"2015-02-15","v":0},
{"d":"2015-02-16","v":0},{"d":"2015-02-17","v":6},{"d":"2015-02-18","v":0},
{"d":"2015-02-20","v":0},{"d":"2015-02-21","v":104},{"d":"2015-02-22","v":0},
{"d":"2015-03-22","v":0},{"d":"2015-03-23","v":8},{"d":"2015-03-24","v":0},
{"d":"2015-04-07","v":0},{"d":"2015-04-08","v":22},{"d":"2015-04-09","v":0},
{"d":"2015-04-11","v":0},{"d":"2015-04-12","v":8},{"d":"2015-04-13","v":0},
{"d":"2015-04-25","v":0},{"d":"2015-04-26","v":20},{"d":"2015-04-27","v":0},
{"d":"2015-05-10","v":0},{"d":"2015-05-11","v":3},{"d":"2015-05-12","v":0},
{"d":"2015-07-07","v":0},{"d":"2015-07-08","v":2},{"d":"2015-07-09","v":0},
{"d":"2015-07-25","v":0}
]
},
"vconcat":[
{
 "name":"tp","width":1083,"height":122,
 "data":{"name":"m"},
 "transform":[{"fold":["a","b","c"],"as":["k","v"]},{"filter":"isValid(datum.v)"}],
 "mark":{"type":"line","strokeWidth":1.8},
 "encoding":{
  "x":{"field":"d","type":"temporal","scale":{"domain":[{"year":2012,"month":1,"date":1},{"year":2015,"month":7,"date":27}]},"axis":{"orient":"top","format":"%b %Y","tickCount":{"interval":"month","step":3},"labelPadding":6,"grid":true}},
  "y":{"field":"v","type":"quantitative","scale":{"domain":[-14.3,45.9],"nice":false,"zero":false},"axis":{"values":[0,20,40],"labelPadding":3,"grid":true}},
  "color":{"field":"k","type":"nominal","scale":{"domain":["a","b","c"],"range":["#155fb0","#d7283a","#5b9f45"]},
   "legend":{"legendX":592,"legendY":126,"labelExpr":"datum.label=='a'?'Min Temperature (° C)':datum.label=='b'?'Max Temperature (° C)':'Punto de rocío (° C)'",
    "encode":{"symbols":{"update":{"shape":{"value":"M-1,-0.65H1V0.65H-1Z"},"fill":{"signal":"datum.value=='a'?'#155fb0':datum.value=='b'?'#d7283a':'#5b9f45'"},"stroke":{"value":"transparent"},"strokeWidth":{"value":0},"opacity":{"value":1},"fillOpacity":{"value":1}}}}}}
 }
},
{
 "name":"wd","width":1083,"height":135,
 "layer":[
  {"data":{"name":"m"},"transform":[{"filter":"isValid(datum.w)"}],
   "mark":{"type":"line","strokeWidth":1.6},
   "encoding":{
    "x":{"field":"d","type":"temporal","scale":{"domain":[{"year":2012,"month":1,"date":1},{"year":2015,"month":7,"date":27}]},"axis":{"labels":false,"tickCount":{"interval":"month","step":3},"grid":true}},
    "y":{"field":"w","type":"quantitative","scale":{"domain":[0,200],"nice":false},"axis":{"values":[0,50,100,150,200],"labelPadding":3,"grid":true,"labelOverlap":false}},
    "color":{"datum":"Velocidad del viento (km/h)","scale":{"domain":["Velocidad del viento (km/h)","Ráfagas de viento (km/h)"],"range":["#0e3577","#ef9750"]},
     "legend":{"legendX":703,"legendY":137,
      "encode":{"symbols":{"update":{"shape":{"value":"M-1,-0.65H1V0.65H-1Z"},"fill":{"signal":"datum.value=='Velocidad del viento (km/h)'?'#0e3577':'#ef9750'"},"stroke":{"value":"transparent"},"strokeWidth":{"value":0},"opacity":{"value":1},"fillOpacity":{"value":1}}}}}}
   }},
  {"data":{"name":"pts"},"transform":[{"filter":"isValid(datum.g)"}],
   "mark":{"type":"point","filled":true,"shape":"circle","size":14,"opacity":1},
   "encoding":{
    "x":{"field":"d","type":"temporal"},
    "y":{"field":"g","type":"quantitative","axis":{"values":[0,50,100,150,200],"labelPadding":3,"grid":true,"labelOverlap":false}},
    "color":{"datum":"Ráfagas de viento (km/h)"}
   }}
 ]
},
{
 "name":"dr","width":1083,"height":135,
 "data":{"name":"pts"},
 "transform":[{"filter":"isValid(datum.r)"}],
 "resolve":{"axis":{"y":"independent"}},
 "layer":[
  {"mark":{"type":"point","filled":true,"shape":"circle","size":16,"opacity":1},
   "encoding":{
    "x":{"field":"d","type":"temporal","scale":{"domain":[{"year":2012,"month":1,"date":1},{"year":2015,"month":7,"date":27}]},"axis":{"labels":false,"tickCount":{"interval":"month","step":3},"grid":true}},
    "y":{"field":"r","type":"quantitative","scale":{"domain":[0,360],"nice":false},"axis":{"orient":"left","values":[0,90,180,270,360],"labelExpr":"datum.value+'°'","labelPadding":3,"grid":true}},
    "color":{"datum":"Dirección del viento","scale":{"range":["#0c2f6e"]},
     "legend":{"legendX":940,"legendY":137,"symbolType":"M-1,-0.65H1V0.65H-1Z",
      "encode":{"symbols":{"update":{"shape":{"value":"M-1,-0.65H1V0.65H-1Z"},"size":{"value":196},"fill":{"value":"#0c2f6e"},"stroke":{"value":"transparent"},"strokeWidth":{"value":0},"opacity":{"value":1},"fillOpacity":{"value":1}}}}}}
   }},
  {"mark":{"type":"circle","size":16,"opacity":0},
   "encoding":{
    "x":{"field":"d","type":"temporal"},
    "y":{"field":"r","type":"quantitative","axis":{"orient":"right","values":[0,90,180,270,360],"labelExpr":"datum.value==90?'E':datum.value==180?'S':datum.value==270?'W':'N'","labelPadding":-1,"labelFontSize":10,"grid":false}}
   }}
 ]
},
{
 "name":"pc","width":1083,"height":135,
 "data":{"name":"pr"},
 "mark":{"type":"line","strokeWidth":1.6},
 "encoding":{
  "x":{"field":"d","type":"temporal","scale":{"domain":[{"year":2012,"month":1,"date":1},{"year":2015,"month":7,"date":27}]},"axis":{"labels":false,"tickCount":{"interval":"month","step":3},"grid":true}},
  "y":{"field":"v","type":"quantitative","scale":{"domain":[0,150],"nice":false},"axis":{"values":[0,50,100,150],"format":".2f","labelAlign":"left","labelPadding":29,"grid":true}},
  "color":{"datum":"Precip. Accum. Total (mm)","scale":{"domain":["Precip. Accum. Total (mm)","Precip. Rate (mm)"],"range":["#177ba5","#8dc21f"]},
   "legend":{"legendX":749,"legendY":138,
    "encode":{"symbols":{"update":{"shape":{"value":"M-1,-0.65H1V0.65H-1Z"},"fill":{"signal":"datum.value=='Precip. Rate (mm)'?'#8dc21f':'#177ba5'"},"stroke":{"value":"transparent"},"strokeWidth":{"value":0},"opacity":{"value":1},"fillOpacity":{"value":1}}}}}}
 }
},
{
 "name":"ps","width":1083,"height":123,
 "data":{"name":"m"},
 "transform":[{"filter":"isValid(datum.p)"}],
 "mark":{"type":"line","strokeWidth":1.6},
 "encoding":{
  "x":{"field":"d","type":"temporal","scale":{"domain":[{"year":2012,"month":1,"date":1},{"year":2015,"month":7,"date":27}]},"axis":{"orient":"bottom","format":"%b %Y","tickCount":{"interval":"month","step":3},"labelPadding":24,"grid":true}},
  "y":{"field":"p","type":"quantitative","scale":{"domain":[960,1060],"nice":false,"zero":false},"axis":{"values":[960,980,1000,1020,1040,1060],"format":".2f","labelAlign":"left","labelPadding":29,"grid":true}},
  "color":{"datum":"Presión (hPa)","scale":{"range":["#222222"]},
   "legend":{"legendX":984,"legendY":126,
    "encode":{"symbols":{"update":{"shape":{"value":"M-1,-0.65H1V0.65H-1Z"},"fill":{"value":"#222222"},"stroke":{"value":"transparent"},"strokeWidth":{"value":0},"opacity":{"value":1},"fillOpacity":{"value":1}}}}}}
 }
}
]
}
